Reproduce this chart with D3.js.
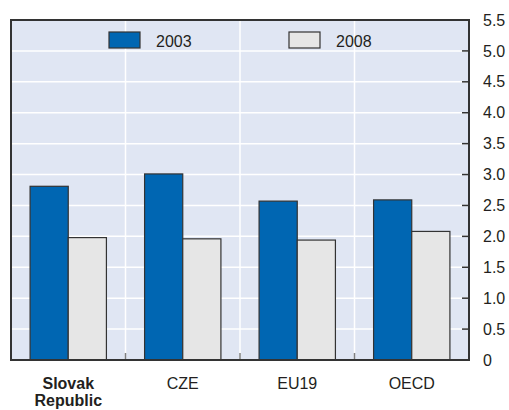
<!DOCTYPE html>
<html>
<head>
<meta charset="utf-8">
<script src="https://cdn.jsdelivr.net/npm/d3@7"></script>
<style>
  body { margin: 0; background: #fff; }
  text { font-family: "Liberation Sans", Arial, sans-serif; fill: #231f20; }
</style>
</head>
<body>
<div id="chart"></div>
<script>
const categories = ["Slovak Republic", "CZE", "EU19", "OECD"];
const series = ["2003", "2008"];
const values2003 = [2.81, 3.01, 2.57, 2.59];
const values2008 = [1.98, 1.96, 1.94, 2.08];
const yTicks = [0, 0.5, 1.0, 1.5, 2.0, 2.5, 3.0, 3.5, 4.0, 4.5, 5.0, 5.5];

const width = 509;
const height = 410;
const margin = { top: 20, right: 40, bottom: 50, left: 11 };
const colors = { "2003": "#0066b2", "2008": "#e6e6e6" };

const svg = d3.select("#chart").append("svg")
  .attr("width", width)
  .attr("height", height);

const x = d3.scaleBand()
  .domain(categories)
  .range([margin.left, width - margin.right])
  .padding(0);

const xSub = d3.scaleBand()
  .domain(series)
  .range([0, x.bandwidth()])
  .paddingInner(0)
  .paddingOuter(0.5);

const y = d3.scaleLinear()
  .domain([0, 5.5])
  .range([height - margin.bottom, margin.top]);

const data = categories.map((c, i) => ({
  cat: c,
  vals: [
    { key: "2003", v: values2003[i] },
    { key: "2008", v: values2008[i] }
  ]
}));

// plot background
svg.append("rect")
  .attr("x", margin.left)
  .attr("y", margin.top)
  .attr("width", width - margin.left - margin.right)
  .attr("height", height - margin.top - margin.bottom)
  .attr("fill", "#e0e6f3");

// horizontal grid
svg.append("g")
  .selectAll("line")
  .data(yTicks.slice(1, -1))
  .enter()
  .append("line")
  .attr("x1", margin.left)
  .attr("x2", width - margin.right)
  .attr("y1", d => y(d))
  .attr("y2", d => y(d))
  .attr("stroke", "#fff")
  .attr("stroke-width", 1.5);

// vertical grid between categories
const bounds = categories.slice(1).map(c => x(c));
svg.append("g")
  .selectAll("line")
  .data(bounds)
  .enter()
  .append("line")
  .attr("x1", d => d)
  .attr("x2", d => d)
  .attr("y1", margin.top)
  .attr("y2", height - margin.bottom)
  .attr("stroke", "#fff")
  .attr("stroke-width", 1.5);

svg.append("g")
  .selectAll("line")
  .data(bounds)
  .enter()
  .append("line")
  .attr("x1", d => d)
  .attr("x2", d => d)
  .attr("y1", height - margin.bottom - 7)
  .attr("y2", height - margin.bottom)
  .attr("stroke", "#808080")
  .attr("stroke-width", 1.5);

// bars
const groups = svg.append("g")
  .selectAll("g")
  .data(data)
  .enter()
  .append("g")
  .attr("transform", d => `translate(${x(d.cat)},0)`);

groups.selectAll("rect")
  .data(d => d.vals)
  .enter()
  .append("rect")
  .attr("x", d => xSub(d.key))
  .attr("width", xSub.bandwidth())
  .attr("y", d => y(d.v))
  .attr("height", d => y(0) - y(d.v))
  .attr("fill", d => colors[d.key])
  .attr("stroke", "#333")
  .attr("stroke-width", 1.2);

// frame
svg.append("rect")
  .attr("x", margin.left)
  .attr("y", margin.top)
  .attr("width", width - margin.left - margin.right)
  .attr("height", height - margin.top - margin.bottom)
  .attr("fill", "none")
  .attr("stroke", "#333")
  .attr("stroke-width", 2);

// right axis
const yAxis = svg.append("g")
  .attr("transform", `translate(${width - margin.right},0)`)
  .call(d3.axisRight(y).tickValues(yTicks).tickSize(0).tickPadding(14)
    .tickFormat(d => d === 0 ? "0" : d3.format(".1f")(d)));
yAxis.select(".domain").remove();
yAxis.selectAll("text")
  .attr("font-size", 16)
  .attr("font-family", null)
  .attr("fill", "#231f20");

svg.append("g")
  .selectAll("line")
  .data(yTicks.slice(1, -1))
  .enter()
  .append("line")
  .attr("x1", width - margin.right - 7)
  .attr("x2", width - margin.right)
  .attr("y1", d => y(d))
  .attr("y2", d => y(d))
  .attr("stroke", "#333")
  .attr("stroke-width", 1.5);

// category labels
const catLabels = svg.append("g")
  .selectAll("text")
  .data(categories)
  .enter()
  .append("text")
  .attr("text-anchor", "middle")
  .attr("font-size", 16)
  .attr("font-weight", (d, i) => i === 0 ? "bold" : "normal")
  .attr("y", height - margin.bottom + 29);

catLabels.each(function(d) {
  const words = d.split(" ");
  const t = d3.select(this);
  words.forEach((w, i) => {
    t.append("tspan")
      .attr("x", x(d) + x.bandwidth() / 2)
      .attr("dy", i === 0 ? 0 : 17)
      .text(w);
  });
});

// legend
const legend = svg.append("g")
  .selectAll("g")
  .data(series)
  .enter()
  .append("g")
  .attr("transform", (d, i) => `translate(${109 + i * 180},32)`);

legend.append("rect")
  .attr("width", 31)
  .attr("height", 16)
  .attr("fill", d => colors[d])
  .attr("stroke", "#333")
  .attr("stroke-width", 1.2);

legend.append("text")
  .attr("x", 47)
  .attr("y", 15)
  .attr("font-size", 16)
  .text(d => d);
</script>
</body>
</html>
